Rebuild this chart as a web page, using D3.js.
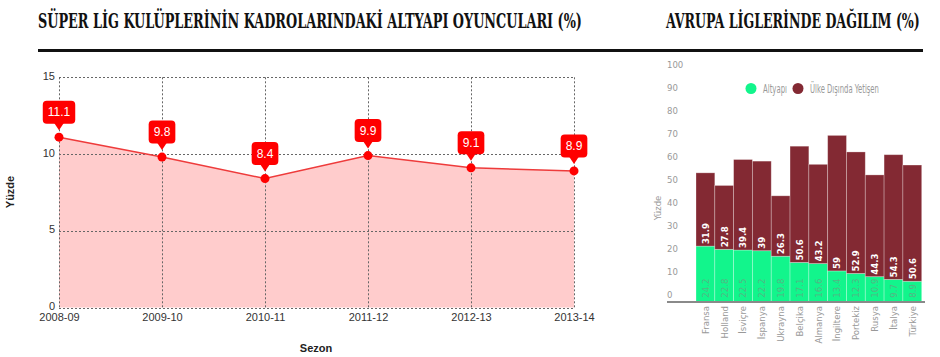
<!DOCTYPE html>
<html><head><meta charset="utf-8">
<script src="https://cdn.jsdelivr.net/npm/d3@7"></script>
<style>
body{margin:0;background:#fff;}
svg{display:block;}
</style></head>
<body>
<svg id="c" width="940" height="357"></svg>
<script>
// ---- Left chart data
const seasons = ["2008-09","2009-10","2010-11","2011-12","2012-13","2013-14"];
const altyapiPct = [11.1, 9.8, 8.4, 9.9, 9.1, 8.9];
const leftTicks = [0, 5, 10, 15];

// ---- Right chart data
const countries = ["Fransa","Holland","İsviçre","İspanya","Ukrayna","Belçika","Almanya","İngiltere","Portekiz","Rusya","İtalya","Türkiye"];
const altyapi = [24.2, 22.8, 22.5, 22.2, 19.8, 17.1, 16.6, 13.4, 12.3, 10.9, 9.7, 8.9];
const ulkeDisi = [31.9, 27.8, 39.4, 39, 26.3, 50.6, 43.2, 59, 52.9, 44.3, 54.3, 50.6];
const rightTicks = [0,10,20,30,40,50,60,70,80,90,100];
const seriesNames = ["Altyapı", "Ülke Dışında Yetişen"];

const svg = d3.select("#c");
const serifFont = "'DejaVu Serif Condensed','DejaVu Serif',serif";
const arial = "'Liberation Sans',Arial,sans-serif";
const narrow = "'DejaVu Sans Condensed','DejaVu Sans',sans-serif";

// text squeezed horizontally to a target width
function squeezed(parent, txt, x, y, w, attrs){
  const g = parent.append("g");
  const t = g.append("text").text(txt);
  Object.entries(attrs).forEach(([k, v]) => t.attr(k, v));
  const w0 = t.node().getComputedTextLength();
  g.attr("transform", `translate(${x},${y}) scale(${w / w0},1)`);
  return t;
}

// Titles
const titleAttrs = {"font-family": serifFont, "font-weight": "bold", "font-size": 19.5, "fill": "#111"};
squeezed(svg, "SÜPER LİG KULÜPLERİNİN KADROLARINDAKİ ALTYAPI OYUNCULARI (%)", 38, 28, 544, titleAttrs);
squeezed(svg, "AVRUPA LİGLERİNDE DAĞILIM (%)", 666, 28, 254, titleAttrs);
svg.append("rect").attr("x", 38).attr("y", 49).attr("width", 885).attr("height", 3).attr("fill", "#111");

// ---- Left chart
const x = d3.scalePoint().domain(seasons).range([59, 574]);
const y = d3.scaleLinear().domain([0, 15]).range([307.5, 77.3]);
const L = svg.append("g");

const pts = seasons.map((s, i) => ({s, v: altyapiPct[i]}));
L.append("path").datum(pts)
  .attr("d", d3.area().x(d => x(d.s)).y0(y(0)).y1(d => y(d.v)))
  .attr("fill", "#ffcccc");

// grid
L.selectAll(".hg").data(leftTicks).join("line")
  .attr("x1", x(seasons[0])).attr("x2", x(seasons[seasons.length-1]))
  .attr("y1", d => Math.round(y(d)) + 0.5).attr("y2", d => Math.round(y(d)) + 0.5)
  .attr("stroke", "#666").attr("stroke-dasharray", "2,2").attr("stroke-width", 1);
L.selectAll(".vg").data(seasons).join("line")
  .attr("x1", d => Math.round(x(d)) + 0.5).attr("x2", d => Math.round(x(d)) + 0.5)
  .attr("y1", y(15)).attr("y2", y(0))
  .attr("stroke", "#666").attr("stroke-dasharray", "2,2").attr("stroke-width", 1);

L.append("path").datum(pts)
  .attr("d", d3.line().x(d => x(d.s)).y(d => y(d.v)))
  .attr("fill", "none").attr("stroke", "#ee3b3b").attr("stroke-width", 1.5);

// axes labels
const yAx = L.append("g").attr("transform", "translate(55,-1.5)")
  .call(d3.axisLeft(y).tickValues(leftTicks).tickSize(0).tickPadding(0));
yAx.select(".domain").remove();
yAx.selectAll("text").attr("font-family", arial).attr("font-size", 11).attr("fill", "#333");
const xAx = L.append("g").attr("transform", `translate(0,${y(0)})`)
  .call(d3.axisBottom(x).tickSize(0).tickPadding(6));
xAx.select(".domain").remove();
xAx.selectAll("text").attr("font-family", arial).attr("font-size", 11).attr("fill", "#333");

L.append("text").attr("transform", "translate(14,192) rotate(-90)")
  .attr("text-anchor", "middle").attr("font-family", arial).attr("font-weight", "bold")
  .attr("font-size", 11).attr("fill", "#222").text("Yüzde");
L.append("text").attr("x", 316).attr("y", 352)
  .attr("text-anchor", "middle").attr("font-family", arial).attr("font-weight", "bold")
  .attr("font-size", 11).attr("fill", "#222").text("Sezon");

// points & labels
L.selectAll(".pt").data(pts).join("circle")
  .attr("cx", d => x(d.s)).attr("cy", d => y(d.v)).attr("r", 4.5).attr("fill", "#f00");
pts.forEach(d => {
  const cx = x(d.s), cy = y(d.v);
  const g = L.append("g");
  const t = g.append("text").attr("x", cx).attr("y", cy - 20)
    .attr("text-anchor", "middle").attr("font-family", arial).attr("font-size", 12)
    .attr("fill", "#fff").text(d.v);
  const w = t.node().getComputedTextLength() + 10;
  const bh = 23, bottom = cy - 13.5;
  g.insert("rect", "text").attr("x", cx - w/2).attr("y", bottom - bh).attr("width", w).attr("height", bh)
    .attr("rx", 4).attr("fill", "#f00");
  g.insert("path", "text").attr("d", `M${cx-5},${bottom-1}L${cx+5},${bottom-1}L${cx},${cy-7}Z`).attr("fill", "#f00");
  t.attr("y", bottom - bh/2).attr("dy", "0.36em");
});

// ---- Right chart
const green = "#12f58c", maroon = "#832933";
const xb = d3.scaleBand().domain(countries).range([696, 921.7]).padding(0);
const yr = d3.scaleLinear().domain([0, 100]).range([301.7, 72]);
const R = svg.append("g");

const rows = countries.map((c, i) => ({c, a: altyapi[i], u: ulkeDisi[i]}));
const stack = d3.stack().keys(["a", "u"])(rows);
const colors = [green, maroon];
stack.forEach((layer, k) => {
  R.selectAll(".b" + k).data(layer).join("rect")
    .attr("x", d => xb(d.data.c)).attr("width", xb.bandwidth())
    .attr("y", d => yr(d[1])).attr("height", d => yr(d[0]) - yr(d[1]))
    .attr("fill", colors[k]).attr("stroke", "rgba(255,255,255,0.35)").attr("stroke-width", 0.8);
});

R.append("rect").attr("x", 667).attr("y", 301).attr("width", 258).attr("height", 2).attr("fill", "#8a8a8a");

// y labels
R.selectAll(".yt").data(rightTicks).join("text")
  .attr("x", 667).attr("y", d => yr(d) - 7).attr("dy", "0.35em")
  .attr("font-family", narrow).attr("font-size", 9.5).attr("fill", "#999").text(d => d);
R.append("text").attr("transform", "translate(661,208) rotate(-90)")
  .attr("text-anchor", "middle").attr("font-family", narrow).attr("font-size", 9.5)
  .attr("fill", "#999").text("Yüzde");

// country labels
R.selectAll(".cl").data(countries).join("text")
  .attr("transform", d => `translate(${xb(d) + xb.bandwidth()/2},306) rotate(-90)`)
  .attr("text-anchor", "end").attr("dy", "0.35em")
  .attr("font-family", narrow).attr("font-size", 9.5).attr("fill", "#999").text(d => d);

// value labels
R.selectAll(".ul").data(rows).join("text")
  .attr("transform", d => `translate(${xb(d.c) + xb.bandwidth()/2},${yr(d.a) - 2}) rotate(-90)`)
  .attr("text-anchor", "start").attr("dy", "0.35em")
  .attr("font-family", narrow).attr("font-weight", "bold").attr("font-size", 9.5)
  .attr("fill", "#fff").text(d => d.u);
R.selectAll(".al").data(rows).join("text")
  .attr("transform", d => `translate(${xb(d.c) + xb.bandwidth()/2},${yr(0) - 4}) rotate(-90)`)
  .attr("text-anchor", "start").attr("dy", "0.35em")
  .attr("font-family", narrow).attr("font-size", 9.5)
  .attr("fill", "#52b784").text(d => d.a);

// legend
const leg = [{n: seriesNames[0], c: green, x: 751, w: 24}, {n: seriesNames[1], c: maroon, x: 798, w: 69}];
leg.forEach(l => {
  R.append("circle").attr("cx", l.x).attr("cy", 88.5).attr("r", 5.5).attr("fill", l.c);
  squeezed(R, l.n, l.x + 12, 92.5, l.w, {"font-family": narrow, "font-size": 12, "fill": "#999"});
});
</script>
</body></html>
